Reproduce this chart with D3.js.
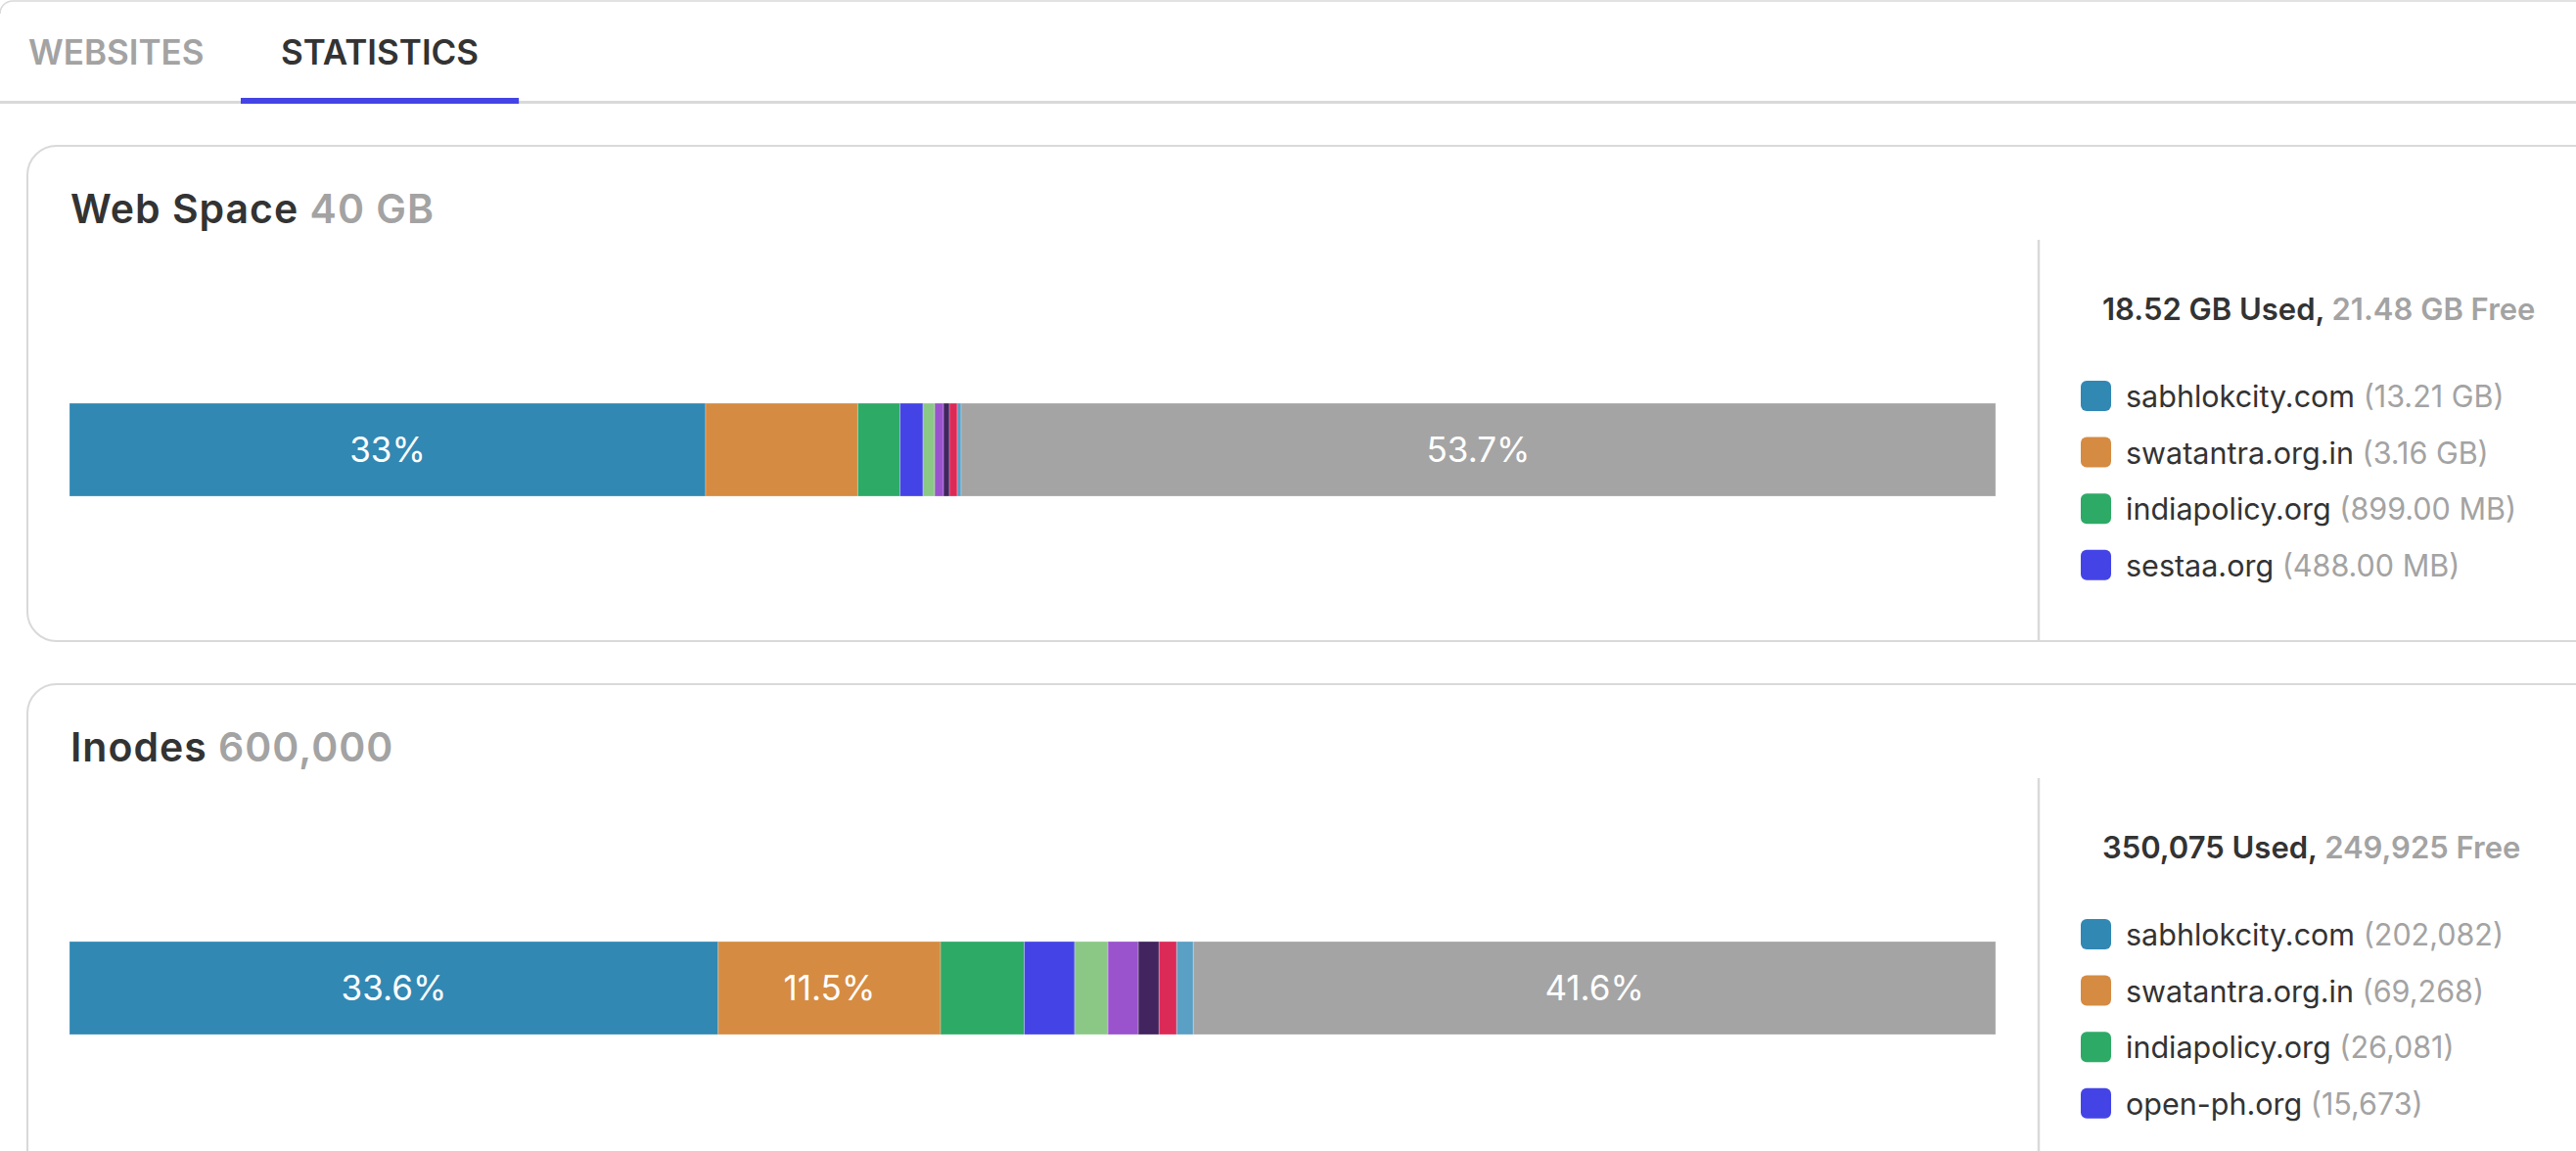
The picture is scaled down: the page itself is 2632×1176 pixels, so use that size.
<!DOCTYPE html>
<html>
<head>
<meta charset="utf-8">
<script src="https://cdn.jsdelivr.net/npm/d3@7"></script>
<style>
  html, body { margin: 0; padding: 0; background: #fff; overflow: hidden; }
  svg { display: block; }
</style>
</head>
<body>
<svg id="the-chart"></svg>
<script>
// Dimensions of the page.
const width = 2632;
const height = 1176;

// Data ------------------------------------------------------------------------

const tabLabels = ["WEBSITES", "STATISTICS"];

// Web space per site, in MB (only the first four are named in the legend)
const spaceSites = ["sabhlokcity.com", "swatantra.org.in", "indiapolicy.org", "sestaa.org",
                    "other-5", "other-6", "other-7", "other-8", "other-9"];
const spaceUsedMB = [13527, 3236, 899, 488, 250, 187, 125, 166, 83];
const spaceTotalMB = 40960;

// Inodes per site
const inodeSites = ["sabhlokcity.com", "swatantra.org.in", "indiapolicy.org", "open-ph.org",
                    "other-5", "other-6", "other-7", "other-8", "other-9"];
const inodeUsed = [202082, 69268, 26081, 15673, 10400, 9450, 6450, 5500, 5171];
const inodeTotal = 600000;

// Visual constants
const SEGMENT_COLORS = ["#3188b3", "#d58b42", "#2eaa67", "#4444e6", "#8bc886",
                        "#9a52cd", "#42245f", "#dc2a57", "#5a9fc4"];
const FREE_COLOR = "#a4a4a4";
const DARK = "#333333";
const MUTED = "#a3a3a3";
const BORDER = "#d9d9d9";
const ACCENT = "#4444e6";
const LEGEND_ITEMS = 4;

const CARD_X = 28;
const CARD_TOPS = [149, 699];
const CARD_H = 506;
const BAR_X0 = 71;
const BAR_X1 = 2039;
const DIVIDER_X = 2083;

// Formatting helpers ----------------------------------------------------------

function formatSize(mb) {
    return mb >= 1024 ? `${(mb / 1024).toFixed(2)} GB` : `${mb.toFixed(2)} MB`;
}
const formatCount = d3.format(",");

function formatPct(p) {
    return `${Math.floor(p * 1000 + 1e-6) / 10}%`;
}

const charts = [
    {title: "Web Space", totalLabel: `${spaceTotalMB / 1024} GB`, sites: spaceSites,
     values: spaceUsedMB, total: spaceTotalMB, fmt: formatSize},
    {title: "Inodes", totalLabel: formatCount(inodeTotal), sites: inodeSites,
     values: inodeUsed, total: inodeTotal, fmt: formatCount}
];

// Drawing ---------------------------------------------------------------------

const svg = d3.select("#the-chart")
    .attr("width", width)
    .attr("height", height)
    .attr("viewBox", [0, 0, width, height])
    .style("font-family", "Inter, 'Noto Sans', sans-serif");

// outer frame (only the top edge is on screen)
svg.append("path")
    .attr("d", `M0,14 A13,13 0 0 1 13,1 H${width}`)
    .attr("fill", "none")
    .attr("stroke", BORDER)
    .attr("stroke-width", 1.5);

// tabs
svg.append("line")
    .attr("x1", 0).attr("x2", width)
    .attr("y1", 104.5).attr("y2", 104.5)
    .attr("stroke", BORDER)
    .attr("stroke-width", 3);

const tabX = [29, 287];
const tabs = svg.append("g")
    .selectAll("text")
    .data(tabLabels)
    .join("text")
        .attr("x", (d, i) => tabX[i])
        .attr("y", 66)
        .attr("font-size", 35)
        .attr("font-weight", 600)
        .attr("fill", (d, i) => i === 1 ? DARK : MUTED)
        .text(d => d);

const activeTab = tabs.nodes()[1];
const activeW = activeTab.getComputedTextLength();
svg.append("rect")
    .attr("x", tabX[1] - 41)
    .attr("y", 100)
    .attr("width", activeW + 82)
    .attr("height", 6)
    .attr("fill", ACCENT);

const x = d3.scaleLinear().range([BAR_X0, BAR_X1]);

charts.forEach((c, ci) => {
    const top = CARD_TOPS[ci];
    const g = svg.append("g").attr("transform", `translate(0,${top})`);

    g.append("rect")
        .attr("x", CARD_X)
        .attr("y", 0)
        .attr("width", width)
        .attr("height", CARD_H)
        .attr("rx", 30)
        .attr("fill", "#fff")
        .attr("stroke", BORDER)
        .attr("stroke-width", 2);

    // title
    const title = g.append("text")
        .attr("x", 72)
        .attr("y", 79)
        .attr("font-size", 41)
        .attr("font-weight", 600)
        .attr("letter-spacing", 1);
    title.append("tspan").attr("fill", DARK).text(c.title + " ");
    title.append("tspan").attr("fill", MUTED).text(c.totalLabel);

    // stacked bar
    x.domain([0, c.total]);
    const used = d3.sum(c.values);
    const ends = d3.cumsum(c.values);
    const segments = c.values.map((v, i) => ({
        v, start: ends[i] - v, end: ends[i], color: SEGMENT_COLORS[i], label: c.sites[i]
    }));
    segments.push({v: c.total - used, start: used, end: c.total, color: FREE_COLOR, label: "Free"});

    const bar = g.append("g").attr("transform", "translate(0,263)");
    bar.selectAll("rect")
        .data(segments)
        .join("rect")
            .attr("x", d => x(d.start))
            .attr("width", d => x(d.end) - x(d.start))
            .attr("y", 0)
            .attr("height", 95)
            .attr("fill", d => d.color)
            .attr("stroke", "rgba(255,255,255,0.25)")
            .attr("stroke-width", 1)
        .append("title")
            .text(d => `${d.label}: ${c.fmt(d.v)}`);

    bar.selectAll("text")
        .data(segments.filter(d => d.v / c.total >= 0.1))
        .join("text")
            .attr("x", d => (x(d.start) + x(d.end)) / 2)
            .attr("y", 47.5)
            .attr("dy", "0.36em")
            .attr("text-anchor", "middle")
            .attr("font-size", 35)
            .attr("fill", "#fff")
            .text(d => formatPct(d.v / c.total));

    // divider
    g.append("line")
        .attr("x1", DIVIDER_X).attr("x2", DIVIDER_X)
        .attr("y1", 96).attr("y2", CARD_H)
        .attr("stroke", BORDER)
        .attr("stroke-width", 2.5);

    // legend header
    const head = g.append("text")
        .attr("x", 2148)
        .attr("y", 178)
        .attr("font-size", 31)
        .attr("font-weight", 600);
    head.append("tspan").attr("fill", DARK).text(`${c.fmt(used)} Used, `);
    head.append("tspan").attr("fill", MUTED).text(`${c.fmt(c.total - used)} Free`);

    // legend items
    const items = g.append("g")
        .selectAll("g")
        .data(segments.slice(0, LEGEND_ITEMS))
        .join("g")
            .attr("transform", (d, i) => `translate(2126,${240 + i * 57.6})`);
    items.append("rect")
        .attr("width", 31)
        .attr("height", 31)
        .attr("rx", 6)
        .attr("fill", d => d.color);
    const label = items.append("text")
        .attr("x", 46)
        .attr("y", 27)
        .attr("font-size", 30.5);
    label.append("tspan").attr("fill", DARK).text(d => d.label + " ");
    label.append("tspan").attr("fill", MUTED).text(d => `(${c.fmt(d.v)})`);
});
</script>
</body>
</html>
